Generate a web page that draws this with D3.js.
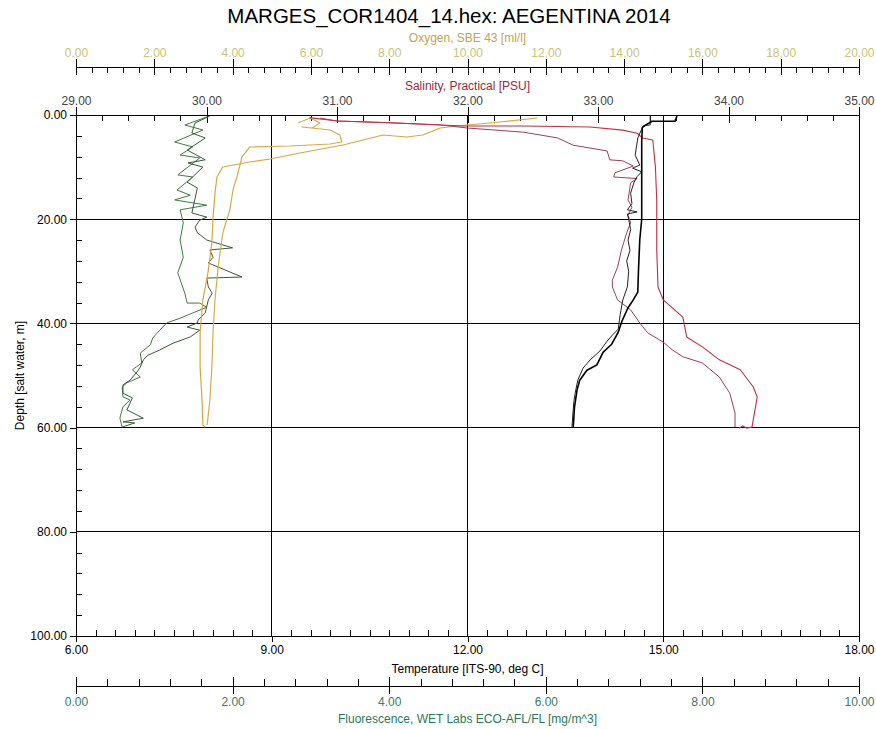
<!DOCTYPE html>
<html>
<head>
<meta charset="utf-8">
<script src="https://cdnjs.cloudflare.com/ajax/libs/d3/7.8.5/d3.min.js"></script>
<style>
  body { margin: 0; background: #fff; }
  svg { display: block; font-family: "Liberation Sans", Arial, sans-serif; }
</style>
</head>
<body>
<div id="chart"></div>
<script>
// CTD profile, each point is [depth m, value].
const temperatureDown = [[0.2, 15.21], [1.2, 15.18], [1.2, 14.83], [2.0, 14.72], [2.4, 14.68], [5, 14.67], [10, 14.67],
  [15, 14.67], [20, 14.67], [24, 14.64], [30, 14.62], [34, 14.61], [35.5, 14.54], [37, 14.46], [39.5, 14.37],
  [41.7, 14.31], [44, 14.21], [45.5, 14.08], [48, 13.98], [49, 13.83], [50.9, 13.72], [52.7, 13.68], [56, 13.64], [60, 13.62]];
const temperatureUp = [[60, 13.60], [55, 13.63], [53.4, 13.65], [50.9, 13.69], [48.6, 13.77], [47, 13.88], [45.3, 14.03],
  [43.4, 14.14], [42.4, 14.21], [41.1, 14.31], [38.3, 14.34], [35.5, 14.38], [33, 14.45], [30, 14.47], [28, 14.44],
  [26, 14.49], [24, 14.46], [22, 14.50], [20, 14.47], [19, 14.45], [18.6, 14.60], [18.2, 14.45], [17, 14.52], [15, 14.50],
  [13, 14.55], [11.8, 14.60], [10.9, 14.67], [10.2, 14.53], [9.6, 14.64], [7.7, 14.57], [4.4, 14.61], [2.1, 14.69],
  [1.9, 14.80], [0.2, 14.80]];

const salinityDown = [[0.5, 30.79], [1.15, 31.0], [1.5, 31.41], [2.1, 31.97], [2.1, 32.43], [2.3, 32.94], [2.9, 33.19],
  [3.5, 33.30], [4.4, 33.34], [4.8, 33.42], [10, 33.44], [16.3, 33.45], [25.9, 33.45], [33, 33.46], [35.5, 33.50],
  [38.8, 33.65], [42.6, 33.68], [44.5, 33.80], [47, 33.93], [48.9, 34.09], [52.2, 34.19], [54.1, 34.22], [59.9, 34.18],
  [60.1, 34.14], [59.7, 34.11], [60.1, 34.08]];
const salinityUp = [[59.9, 34.05], [57.2, 34.05], [53.4, 34.01], [50.3, 33.93], [47.6, 33.80], [46.4, 33.65], [45.1, 33.57],
  [43.6, 33.50], [41.8, 33.38], [39.9, 33.32], [37.4, 33.25], [35.5, 33.15], [33, 33.11], [31.7, 33.11], [29.2, 33.15],
  [25.9, 33.18], [22.6, 33.22], [20.7, 33.25], [19.2, 33.23], [17.7, 33.26], [16.3, 33.23], [13, 33.25], [12.2, 33.30],
  [11.9, 33.12], [11.1, 33.13], [9.8, 33.27], [8.8, 33.19], [8.6, 33.09], [6.9, 33.07], [5.8, 32.81], [4.4, 32.69],
  [3.3, 32.43], [2.5, 32.0], [1.9, 31.79], [1.5, 31.41], [1.15, 31.0], [0.6, 30.87]];

const oxygenDown = [[1.54, 5.67], [0.58, 5.98], [1.54, 6.23], [2.5, 6.03], [2.3, 5.77], [2.88, 6.49], [3.84, 6.74],
  [5.18, 6.79], [5.57, 6.49], [5.95, 5.47], [6.14, 4.44], [8.06, 4.24], [11.9, 4.11], [14.4, 4.01], [18.2, 3.93],
  [22.6, 3.75], [29.2, 3.63], [35.5, 3.55], [41.8, 3.50], [48.4, 3.47], [54.7, 3.42], [59.5, 3.35]];
const oxygenUp = [[59.9, 3.30], [59.5, 3.24], [54.7, 3.22], [48.4, 3.17], [41.8, 3.17], [35.5, 3.24], [30.3, 3.37],
  [24.6, 3.47], [19.6, 3.50], [15.0, 3.55], [11.9, 3.60], [9.98, 3.75], [9.02, 4.44], [8.45, 4.96], [7.29, 5.72],
  [5.76, 6.82], [3.84, 7.84], [4.22, 8.45], [3.84, 8.86], [2.5, 9.30], [1.92, 9.99], [1.34, 10.83], [0.58, 11.78]];

const fluorescenceDown = [[0.38, 1.67], [1.92, 1.39], [2.88, 1.62], [5.18, 1.26], [6.14, 1.49], [7.68, 1.33], [8.25, 1.58],
  [11.5, 1.30], [11.9, 1.49], [14.4, 1.29], [15.4, 1.46], [16.3, 1.26], [17.3, 1.67], [18.2, 1.33], [20.7, 1.37],
  [24.0, 1.33], [27.3, 1.37], [30.3, 1.30], [34.2, 1.39], [36.1, 1.42], [36.1, 1.58], [36.9, 1.67], [38.0, 1.49],
  [39.0, 1.33], [39.9, 1.16], [41.3, 1.07], [42.8, 0.98], [44.1, 0.95], [45.7, 0.82], [47.6, 0.84], [48.9, 0.72],
  [50.3, 0.82], [51.4, 0.65], [52.2, 0.59], [54.1, 0.60], [54.7, 0.69], [56.0, 0.60], [58.2, 0.56], [59.9, 0.59]];
const fluorescenceUp = [[59.9, 0.59], [59.1, 0.75], [58.9, 0.60], [58.2, 0.86], [56.6, 0.65], [54.3, 0.72], [53.4, 0.60],
  [51.8, 0.60], [50.9, 0.69], [49.3, 0.78], [48.4, 0.82], [47.0, 0.86], [46.1, 0.92], [45.1, 1.07], [43.8, 1.24],
  [42.6, 1.46], [41.3, 1.58], [40.7, 1.42], [39.9, 1.55], [39.3, 1.56], [38.0, 1.65], [35.5, 1.69], [34.2, 1.74],
  [33.0, 1.69], [31.3, 1.67], [31.1, 2.12], [28.4, 1.69], [27.3, 1.75], [25.9, 1.71], [25.5, 2.0], [24.0, 1.67],
  [22.6, 1.55], [21.5, 1.52], [20.2, 1.58], [19.6, 1.67], [18.8, 1.48], [14.0, 1.55], [12.9, 1.42], [10.0, 1.62],
  [9.2, 1.43], [8.6, 1.65], [6.72, 1.42], [4.41, 1.65], [3.45, 1.48], [1.54, 1.52], [0.19, 1.71]];

// Tick labels.
const depthTicks = [0, 20, 40, 60, 80, 100];
const temperatureTicks = [6, 9, 12, 15, 18];
const salinityTicks = [29, 30, 31, 32, 33, 34, 35];
const oxygenTicks = [0, 2, 4, 6, 8, 10, 12, 14, 16, 18, 20];
const fluorescenceTicks = [0, 2, 4, 6, 8, 10];

const width = 876, height = 729;
const plot = { left: 76, right: 859, top: 115, bottom: 636 };
const fmt = d3.format(".2f");
const font = '"Liberation Sans", Arial, sans-serif';

const svg = d3.select("#chart").append("svg")
  .attr("width", width)
  .attr("height", height);

// Scales.
const y = d3.scaleLinear().domain([0, 100]).range([plot.top, plot.bottom]);
const xTemp = d3.scaleLinear().domain([6, 18]).range([plot.left, plot.right]);
const xSal = d3.scaleLinear().domain([29, 35]).range([plot.left, plot.right]);
const xOxy = d3.scaleLinear().domain([0, 20]).range([plot.left, plot.right]);
const xFluor = d3.scaleLinear().domain([0, 10]).range([plot.left, plot.right]);

// Minor tick positions between the majors.
function minorTicks(ticks, parts) {
  const out = [];
  for (let i = 0; i < ticks.length - 1; i++) {
    const step = (ticks[i + 1] - ticks[i]) / parts;
    for (let k = 1; k < parts; k++) out.push(ticks[i] + k * step);
  }
  return out;
}

function styleAxis(g, textColor) {
  // d3 puts font-size 10 on each axis group, override it there.
  g.selectAll("g").attr("font-family", font).attr("font-size", 12);
  g.selectAll("line, path").attr("stroke", "#000").attr("shape-rendering", "crispEdges");
  g.selectAll("text").attr("fill", textColor);
}

// Horizontal axis: labels on one side, minor ticks on the other.
function hAxis(scale, ypos, ticks, parts, side, sizes, textColor) {
  const make = side === "top" ? d3.axisTop : d3.axisBottom;
  const g = svg.append("g").attr("transform", `translate(0,${ypos})`);

  g.append("g").call(make(scale).tickValues(minorTicks(ticks, parts)).tickSize(-sizes.minor).tickFormat(""))
    .call(a => a.select(".domain").remove());
  g.append("g").call(make(scale).tickValues(ticks).tickSize(-sizes.inner).tickFormat(""))
    .call(a => a.select(".domain").remove());
  g.append("g").call(make(scale).tickValues(ticks).tickSize(sizes.outer).tickSizeOuter(0)
    .tickPadding(sizes.pad).tickFormat(fmt));

  styleAxis(g, textColor);
  return g;
}

// Grid lines.
const grid = svg.append("g").attr("stroke", "#000").attr("shape-rendering", "crispEdges");
grid.selectAll("line.v")
  .data(temperatureTicks.slice(1, -1))
  .join("line")
    .attr("x1", d => xTemp(d)).attr("x2", d => xTemp(d))
    .attr("y1", plot.top).attr("y2", plot.bottom);
grid.selectAll("line.h")
  .data(depthTicks.slice(1, -1))
  .join("line")
    .attr("class", "h")
    .attr("x1", plot.left).attr("x2", plot.right)
    .attr("y1", d => y(d)).attr("y2", d => y(d));
grid.append("line")
  .attr("x1", plot.right).attr("x2", plot.right)
  .attr("y1", plot.top).attr("y2", plot.bottom);

// Axes.
hAxis(xOxy, 67, oxygenTicks, 5, "top", { minor: 6, inner: 8, outer: 8, pad: 2 }, "#c9c27a");
hAxis(xSal, plot.top, salinityTicks, 5, "top", { minor: 6, inner: 8, outer: 8, pad: 2 }, "#444");
hAxis(xTemp, plot.bottom, temperatureTicks, 10, "bottom", { minor: 6, inner: 0, outer: 6, pad: 3 }, "#000");
hAxis(xFluor, 686, fluorescenceTicks, 5, "bottom", { minor: 7, inner: 9, outer: 8, pad: 3 }, "#3a7a66");

const yAxis = svg.append("g").attr("transform", `translate(${plot.left},0)`);
yAxis.append("g").call(d3.axisLeft(y).tickValues(minorTicks(depthTicks, 5)).tickSize(-6).tickFormat(""))
  .call(a => a.select(".domain").remove());
yAxis.append("g").call(d3.axisLeft(y).tickValues(depthTicks).tickSize(6).tickSizeOuter(0).tickPadding(3).tickFormat(fmt));
styleAxis(yAxis, "#000");

// Axis titles.
const titles = [
  { text: "Oxygen, SBE 43 [ml/l]", y: 42, color: "#c8a050" },
  { text: "Salinity, Practical [PSU]", y: 90, color: "#a0283c" },
  { text: "Temperature [ITS-90, deg C]", y: 673, color: "#000" },
  { text: "Fluorescence, WET Labs ECO-AFL/FL [mg/m^3]", y: 723, color: "#2a7a5a" }
];
svg.selectAll("text.axis-title")
  .data(titles)
  .join("text")
    .attr("class", "axis-title")
    .attr("x", (plot.left + plot.right) / 2)
    .attr("y", d => d.y)
    .attr("text-anchor", "middle")
    .attr("font-size", 12)
    .attr("fill", d => d.color)
    .text(d => d.text);

svg.append("text")
  .attr("transform", `translate(24,${(plot.top + plot.bottom) / 2}) rotate(-90)`)
  .attr("text-anchor", "middle")
  .attr("font-size", 12)
  .attr("fill", "#000")
  .text("Depth [salt water, m]");

svg.append("text")
  .attr("x", 449)
  .attr("y", 23)
  .attr("text-anchor", "middle")
  .attr("font-size", 20.5)
  .attr("fill", "#000")
  .text("MARGES_COR1404_14.hex: AEGENTINA 2014");

// Profile lines.
const series = [
  { data: fluorescenceDown, x: xFluor, color: "#3d7d3d", w: 1 },
  { data: fluorescenceUp, x: xFluor, color: "#3a5a3a", w: 1 },
  { data: oxygenDown, x: xOxy, color: "#d6ab50", w: 1.2 },
  { data: oxygenUp, x: xOxy, color: "#dca445", w: 1.2 },
  { data: salinityUp, x: xSal, color: "#9a4058", w: 1 },
  { data: salinityDown, x: xSal, color: "#c03040", w: 1.1 },
  { data: temperatureUp, x: xTemp, color: "#222", w: 1 },
  { data: temperatureDown, x: xTemp, color: "#000", w: 1.6 }
];

series.forEach(s => {
  const line = d3.line()
    .x(d => s.x(d[1]))
    .y(d => y(d[0]));
  svg.append("path")
    .datum(s.data)
    .attr("fill", "none")
    .attr("stroke", s.color)
    .attr("stroke-width", s.w)
    .attr("stroke-linejoin", "round")
    .attr("d", line);
});
</script>
</body>
</html>
